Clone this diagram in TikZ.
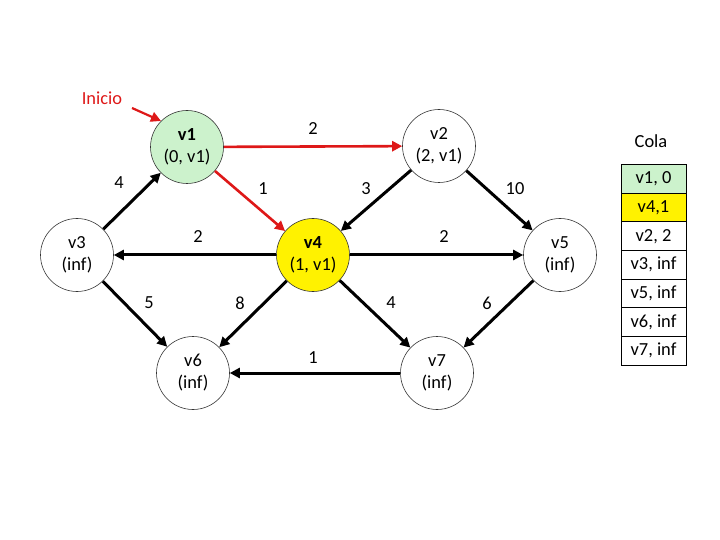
\documentclass[tikz,border=0pt]{standalone}
\usepackage{fontspec}
\setmainfont{Carlito}
\usetikzlibrary{positioning,arrows.meta}
\definecolor{vgreen}{RGB}{204,242,204}
\definecolor{vyellow}{RGB}{255,242,0}
\definecolor{vred}{RGB}{222,24,24}

\begin{document}
\begin{tikzpicture}[x=1bp, y=-1bp,
  font=\fontsize{18.5}{22}\selectfont, >={Triangle[length=10bp,width=10bp]},
  vtx/.style={draw=black!80, circle, line width=0.6bp, minimum size=73bp,
              inner sep=0pt, align=center, fill=white},
  arr/.style={->, line width=3bp},
  rarr/.style={->, line width=2.6bp, color=vred},
  lbl/.style={inner sep=1bp},
  qrow/.style={draw, line width=0.8bp, minimum width=65bp, minimum height=28.6bp,
               outer sep=0pt, inner sep=0pt},
]
\useasboundingbox (0,0) rectangle (720,540);

% vertices
\node[vtx, fill=vgreen]  (v1) at (187,147) {\textbf{v1}\\(0, v1)};
\node[vtx]               (v2) at (439,146) {v2\\(2, v1)};
\node[vtx]               (v3) at (77,255)  {v3\\(inf)};
\node[vtx, fill=vyellow] (v4) at (313,255) {\textbf{v4}\\(1, v1)};
\node[vtx]               (v5) at (560,255) {v5\\(inf)};
\node[vtx]               (v6) at (193,373) {v6\\(inf)};
\node[vtx]               (v7) at (437,373) {v7\\(inf)};

% start marker
\node[lbl, text=vred] (ini) at (102,98) {Inicio};
\coordinate (ini0) at (132,108);
\draw[rarr, line width=2.2bp] (ini0) -- (v1.135);

% edges
\draw[rarr] (v1)--(v2); \draw[rarr] (v1)--(v4);
\draw[arr] (v3)--(v1); \draw[arr] (v2)--(v4);
\draw[arr] (v2)--(v5); \draw[arr] (v4)--(v3);
\draw[arr] (v4)--(v5); \draw[arr] (v3)--(v6);
\draw[arr] (v4)--(v6); \draw[arr] (v4)--(v7);
\draw[arr] (v5)--(v7); \draw[arr] (v7)--(v6);

% weights
\node[lbl] (w12) at (313,129) {2};
\node[lbl] (w14) at (263,189) {1};
\node[lbl] (w31) at (119,183) {4};
\node[lbl] (w24) at (366,189) {3};
\node[lbl] (w25) at (515,189) {10};
\node[lbl] (w43) at (198,237) {2};
\node[lbl] (w45) at (444,237) {2};
\node[lbl] (w36) at (149,303) {5};
\node[lbl] (w46) at (240,303) {8};
\node[lbl] (w47) at (391,303) {4};
\node[lbl] (w57) at (487,303) {6};
\node[lbl] (w76) at (313,358) {1};

% queue
\node[lbl] (cola) at (651,141) {Cola};
\node[qrow, fill=vgreen]  (q1) at (653.5,179) {v1, 0};
\node[qrow, fill=vyellow, below=0pt of q1] (q2) {v4,1};
\node[qrow, below=0pt of q2] (q3) {v2, 2};
\node[qrow, below=0pt of q3] (q4) {v3, inf};
\node[qrow, below=0pt of q4] (q5) {v5, inf};
\node[qrow, below=0pt of q5] (q6) {v6, inf};
\node[qrow, below=0pt of q6] (q7) {v7, inf};
\end{tikzpicture}
\end{document}
